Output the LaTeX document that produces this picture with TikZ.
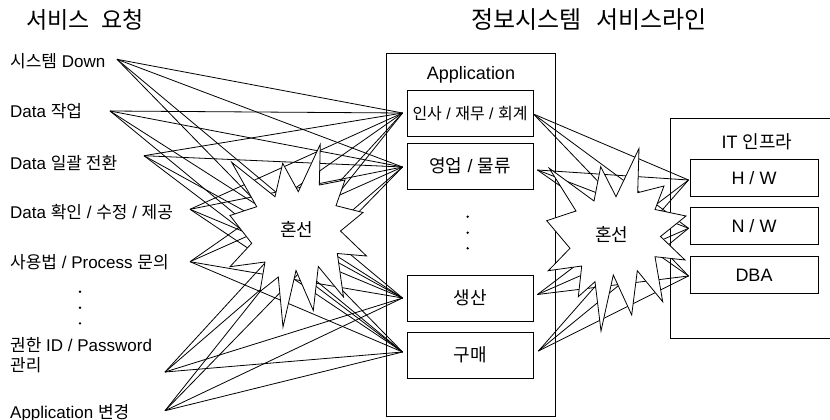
\documentclass[tikz,border=0pt]{standalone}
\usepackage{fontspec}
\setmainfont{Liberation Sans}
\newfontfamily\kr{Noto Sans CJK KR}
\newcommand\K[1]{{\kr #1}}
\usetikzlibrary{calc}

\begin{document}
\begin{tikzpicture}[x=1pt,y=-1pt,
  wire/.style={line width=0.8pt},
  appframe/.style={draw, line width=0.9pt},
  appbox/.style={draw, fill=white, line width=0.9pt, minimum width=126, minimum height=46, inner sep=0pt},
  itbox/.style={appbox, minimum width=128, minimum height=37},
  req/.style={anchor=base west, inner sep=0pt, font=\fontsize{17}{20}\selectfont, align=left},
  heading/.style={anchor=base, inner sep=0pt},
  caption/.style={anchor=base, inner sep=0pt, font=\fontsize{18}{18}\selectfont},
  burst/.style={draw, fill=white, line width=0.8pt, line join=miter},
  dot/.style={circle, fill, inner sep=0pt, minimum size=2.6pt}
]
\useasboundingbox (0,0) rectangle (830,420);

% headings
\node[heading, font=\fontsize{23}{23}\selectfont] (t1) at (85,28.6) {\K{서비스\hspace{0.5em}요청}};
\node[heading, font=\fontsize{24}{24}\selectfont] (t2) at (589,29) {\K{정보시스템\hspace{0.6em}서비스라인}};

% service requests
\node[req] (q1) at (10,68) {\K{시스템} Down};
\node[req] (q2) at (10,117.3) {Data \K{작업}};
\node[req] (q3) at (10,169) {Data \K{일괄 전환}};
\node[req] (q4) at (10,218.3) {Data \K{확인} / \K{수정} / \K{제공}};
\node[req] (q5) at (10,268) {\K{사용법} / Process \K{문의}};
\node[req] (q6) at (10,371.3) {\K{권한} ID / Password\\\K{관리}};
\node[req] (q7) at (10,418) {Application \K{변경}};
\node[dot] (d1) at (80,291.7) {};
\node[dot] (d2) at (80,307.7) {};
\node[dot] (d3) at (80,323.3) {};

\coordinate (r1) at (117,59.3);
\coordinate (r2) at (110,111);
\coordinate (r3) at (144,155.7);
\coordinate (r4) at (190,209.3);
\coordinate (r5) at (190,261.7);
\coordinate (r6) at (165,372);
\coordinate (r7) at (165,410.7);

% application frame
\draw[appframe] (386,53) rectangle (555,416);
\node[caption] (appt) at (471,79.5) {Application};

% IT frame (runs off to the right)
\coordinate (itA) at (832,118);
\coordinate (itB) at (670,118);
\coordinate (itC) at (670,338);
\coordinate (itD) at (832,338);
\draw[appframe] (itA) -- (itB) -- (itC) -- (itD);
\node[caption] (itt) at (757,148.8) {IT \K{인프라}};

% application and infrastructure boxes
\node[appbox] (a1) at (470,113) {};
\node[appbox] (a2) at (470,166) {};
\node[appbox] (a3) at (470,298) {};
\node[appbox] (a4) at (470,355) {};
\node[itbox] (h1) at (754,178) {};
\node[itbox] (h2) at (754,225.5) {};
\node[itbox] (h3) at (754,275) {};

\coordinate (a1in) at ($(a1.west)+(-4,0)$);
\coordinate (a2in) at ($(a2.west)+(-4,1)$);
\coordinate (a3in) at ($(a3.west)+(-4,0)$);
\coordinate (a4in) at ($(a4.west)+(-4,-3)$);
\coordinate (a1out) at ($(a1.east)+(0,1)$);
\coordinate (a2out) at ($(a2.east)+(4,4)$);
\coordinate (a3out) at ($(a3.east)+(4,-3.5)$);
\coordinate (a4out) at ($(a4.east)+(5,-4)$);
\coordinate (h1in) at ($(h1.west)+(-1,2)$);
\coordinate (h2in) at ($(h2.west)+(-1,2.8)$);
\coordinate (h3in) at ($(h3.west)+(-1,1)$);

% crossed connections
\foreach \r in {r1,r2,r3,r4,r5,r6,r7}
  \foreach \a in {a1in,a2in,a3in,a4in}
    \draw[wire] (\r) -- (\a);
\foreach \a in {a1out,a2out,a3out,a4out}
  \foreach \h in {h1in,h2in,h3in}
    \draw[wire] (\a) -- (\h);

% explosion shapes
\draw[burst] (320.3,144.3) -- (319.3,185) -- (345,180) -- (336,205.7) -- (363,212.5)
  -- (340.5,231) -- (366.5,256) -- (337.3,253.5) -- (343.5,297) -- (318.3,266.5)
  -- (313.3,310.5) -- (296,270.5) -- (283,327) -- (278.3,277) -- (260,291.5)
  -- (265,262) -- (230,266.7) -- (251.7,243.3) -- (230,215.5) -- (256.7,206.7)
  -- (231.7,162.3) -- (275,196.7) -- (282.7,163.3) -- (298.3,191.7) -- cycle;
\draw[burst] (639,148.5) -- (637.7,192.7) -- (664,186) -- (655,209.5) -- (686,216)
  -- (660.5,236.5) -- (685,260) -- (655,256.7) -- (662.7,301.7) -- (637.3,270.7)
  -- (631.7,315) -- (613.3,275) -- (601,331) -- (595,281.7) -- (578.3,296.7)
  -- (581.7,266) -- (548.3,270.7) -- (570,248.3) -- (546.7,220.7) -- (576,211)
  -- (549.3,168.3) -- (594,201) -- (600.7,166.7) -- (616,196.7) -- cycle;
\node[caption] (x1) at (296.7,236.8) {\K{혼선}};
\node[caption] (x2) at (611.7,241.8) {\K{혼선}};

% box labels
\node[caption, font=\fontsize{16}{16}\selectfont] (l1) at ($(a1)+(0,6)$) {\K{인사} / \K{재무} / \K{회계}};
\node[caption] (l2) at ($(a2)+(0,6.7)$) {\K{영업} / \K{물류}};
\node[caption] (l3) at ($(a3)+(0,6.7)$) {\K{생산}};
\node[caption] (l4) at ($(a4)+(0,6.7)$) {\K{구매}};
\node[caption] (m1) at ($(h1)+(0,6.5)$) {H / W};
\node[caption] (m2) at ($(h2)+(0,6.5)$) {N / W};
\node[caption] (m3) at ($(h3)+(0,6.5)$) {DBA};

\node[dot] (e1) at (467.7,216.7) {};
\node[dot] (e2) at (467.7,232.7) {};
\node[dot] (e3) at (467.7,248.3) {};
\end{tikzpicture}
\end{document}
